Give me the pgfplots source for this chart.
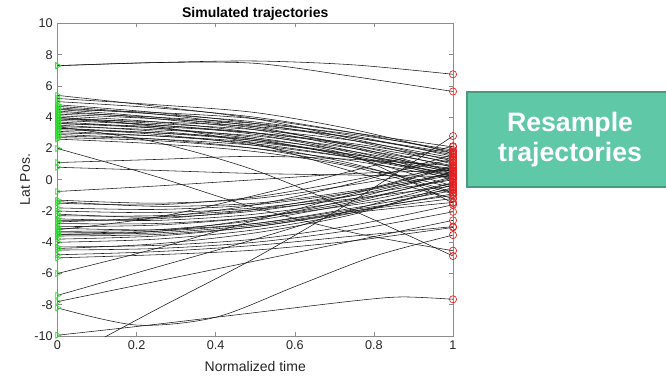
\documentclass[border=0pt]{standalone}
\usepackage{pgfplots}
\pgfplotsset{compat=1.18}
\usepackage{fontspec}
\setmainfont{Liberation Sans}
\definecolor{boxfill}{RGB}{95,200,166}
\definecolor{boxedge}{RGB}{74,155,125}
\definecolor{startgreen}{RGB}{40,220,40}
\definecolor{endred}{RGB}{230,30,30}
\definecolor{axgray}{RGB}{140,140,140}
\definecolor{ticktext}{RGB}{38,38,38}
\newcommand{\traj}[5]{\addplot[traj] coordinates {(0,#1)(0.25,#2)(0.5,#3)(0.75,#4)(1,#5)};}
\begin{document}
\begin{tikzpicture}
\useasboundingbox (-43.125pt,-29.25pt) rectangle (456.375pt,252pt);
\begin{axis}[
  at={(0pt,0pt)}, anchor=south west,
  scale only axis, width=296.625pt, height=234.375pt,
  xmin=0, xmax=1, ymin=-10, ymax=10,
  xtick={0,0.2,0.4,0.6,0.8,1},
  ytick={-10,-8,-6,-4,-2,0,2,4,6,8,10},
  tick align=inside, major tick length=3pt,
  axis line style={axgray, line width=0.5pt},
  tick style={axgray, line width=0.4pt},
  tick label style={font=\fontsize{9.5}{11}\selectfont, text=ticktext},
  /pgf/number format/assume math mode=true,
  title={\bfseries Simulated trajectories},
  title style={font=\fontsize{10.5}{12}\selectfont, yshift=-7.5pt},
  xlabel={Normalized time}, ylabel={Lat Pos.},
  label style={font=\fontsize{10.5}{12}\selectfont, text=ticktext},
  xlabel style={yshift=-2pt},
  ylabel style={yshift=-3.5pt},
  traj/.style={black!90, line width=0.42pt, smooth, mark=none},
  clip=true,
]
% top
\traj{7.3}{7.5}{7.6}{7.35}{6.75}
\traj{7.3}{7.5}{7.45}{6.6}{5.65}
% upper group
\traj{5.4}{4.7}{3.9}{2.6}{1.2}
\traj{5.2}{4.8}{4.3}{3.2}{1.7}
\traj{5.0}{4.6}{4.0}{3.0}{1.8}
\traj{4.8}{4.3}{3.6}{2.5}{1.0}
\traj{4.6}{4.2}{3.7}{2.8}{1.5}
\traj{4.5}{4.0}{3.3}{2.2}{0.8}
\traj{4.5}{4.3}{3.9}{3.0}{2.1}
\traj{4.4}{3.9}{3.2}{2.0}{0.4}
\traj{4.2}{3.9}{3.5}{2.7}{1.6}
\traj{4.1}{3.7}{3.0}{1.8}{0.2}
\traj{4.0}{3.6}{3.2}{2.5}{1.4}
\traj{3.9}{3.5}{2.9}{1.7}{0.0}
\traj{3.8}{3.5}{3.0}{2.2}{1.1}
\traj{3.7}{3.3}{2.6}{1.4}{-0.4}
\traj{3.6}{3.4}{3.0}{2.3}{1.3}
\traj{3.5}{3.1}{2.5}{1.5}{0.3}
\traj{3.4}{3.2}{2.8}{2.0}{0.9}
\traj{3.3}{2.9}{2.2}{1.0}{-0.8}
\traj{3.2}{3.0}{2.6}{1.8}{0.6}
\traj{3.1}{2.8}{2.3}{1.4}{0.2}
\traj{3.0}{2.8}{2.4}{1.6}{0.7}
\traj{2.9}{2.6}{2.0}{0.9}{-0.5}
\traj{2.8}{2.6}{2.2}{1.4}{0.4}
\traj{2.7}{2.5}{2.0}{1.2}{0.1}
\traj{2.6}{2.3}{1.8}{0.8}{-0.9}
\traj{3.6}{3.3}{2.7}{1.5}{-1.5}
\traj{4.0}{3.4}{2.3}{0.5}{-1.2}
\traj{4.3}{4.0}{3.6}{2.9}{1.9}
\traj{3.4}{2.4}{0.6}{-2.0}{-4.88}
\traj{3.9}{3.7}{3.4}{2.7}{1.7}
\traj{3.3}{3.0}{2.5}{1.6}{0.5}
\traj{4.7}{4.2}{3.4}{2.1}{0.5}
% middle
\traj{2.0}{0.2}{-1.8}{-3.4}{-4.54}
\traj{1.1}{1.3}{1.5}{1.3}{0.9}
\traj{0.8}{0.6}{0.4}{0.3}{0.2}
\traj{-0.75}{-0.4}{0.0}{0.4}{0.6}
% lower group
\traj{-1.3}{-1.5}{-1.2}{-0.3}{0.8}
\traj{-1.4}{-1.7}{-1.5}{-0.7}{0.4}
\traj{-1.5}{-1.6}{-1.1}{0.0}{1.3}
\traj{-1.8}{-1.9}{-1.6}{-0.8}{0.3}
\traj{-2.0}{-2.1}{-1.8}{-1.0}{0.0}
\traj{-2.2}{-2.4}{-2.0}{-1.0}{0.5}
\traj{-2.3}{-2.3}{-1.9}{-1.2}{-0.4}
\traj{-2.5}{-2.6}{-2.2}{-1.3}{0.1}
\traj{-2.6}{-2.5}{-1.9}{-0.8}{0.9}
\traj{-2.8}{-2.8}{-2.4}{-1.6}{-0.6}
\traj{-3.0}{-2.9}{-2.4}{-1.4}{0.2}
\traj{-3.1}{-3.2}{-2.8}{-1.9}{-1.0}
\traj{-3.3}{-3.2}{-2.6}{-1.5}{-0.2}
\traj{-3.4}{-3.3}{-2.8}{-1.8}{-0.7}
\traj{-3.5}{-3.4}{-2.9}{-2.0}{-1.2}
\traj{-3.5}{-3.3}{-2.5}{-1.2}{0.5}
\traj{-3.6}{-3.5}{-3.0}{-2.1}{-1.45}
\traj{-3.8}{-3.6}{-3.0}{-2.0}{-0.9}
\traj{-4.0}{-3.8}{-3.2}{-2.1}{-0.5}
\traj{-4.3}{-4.2}{-3.8}{-2.9}{-1.6}
\traj{-4.4}{-4.1}{-3.4}{-2.2}{-0.3}
\traj{-4.5}{-4.4}{-4.0}{-3.2}{-2.05}
\traj{-4.8}{-4.6}{-4.2}{-3.6}{-3.0}
\traj{-5.0}{-4.8}{-4.5}{-3.9}{-3.05}
\traj{-3.2}{-2.4}{-1.0}{0.6}{2.15}
\traj{-2.7}{-2.4}{-1.6}{-0.2}{1.6}
% bottom lines
\traj{-6.0}{-4.4}{-2.6}{-0.9}{0.8}
\traj{-7.4}{-5.6}{-3.8}{-1.9}{-0.2}
\traj{-7.8}{-6.5}{-5.2}{-3.9}{-2.6}
\addplot[traj] coordinates {(0,-9.95)(0.25,-9.25)(0.5,-8.5)(0.75,-7.75)(0.87,-7.5)(1,-7.65)};
\addplot[traj] coordinates {(0,-8.2)(0.2,-9.3)(0.4,-8.8)(0.6,-6.84)(0.8,-4.9)(1,-3.54)};
\traj{-11.7}{-8.3}{-5.0}{-1.3}{2.8}
% start markers
\addplot[only marks, mark=triangle, mark size=2.6pt, mark options={rotate=-90, draw=startgreen, line width=0.45pt, fill=none}] coordinates {
(0,7.3)(0,7.3)(0,5.4)(0,5.2)(0,5.0)(0,4.8)(0,4.6)(0,4.5)(0,4.5)(0,4.4)(0,4.2)(0,4.1)(0,4.0)(0,3.9)(0,3.8)(0,3.7)(0,3.6)(0,3.5)(0,3.4)(0,3.3)(0,3.2)(0,3.1)(0,3.0)(0,2.9)(0,2.8)(0,2.7)(0,2.6)(0,3.6)(0,4.0)(0,4.3)(0,3.4)(0,3.9)(0,3.3)(0,4.7)
(0,2.0)(0,1.1)(0,0.8)(0,-0.75)
(0,-1.3)(0,-1.4)(0,-1.5)(0,-1.8)(0,-2.0)(0,-2.2)(0,-2.3)(0,-2.5)(0,-2.6)(0,-2.8)(0,-3.0)(0,-3.1)(0,-3.3)(0,-3.4)(0,-3.5)(0,-3.5)(0,-3.6)(0,-3.8)(0,-4.0)(0,-4.3)(0,-4.4)(0,-4.5)(0,-4.8)(0,-5.0)(0,-3.2)(0,-2.7)
(0,-6.0)(0,-7.4)(0,-7.8)(0,-9.95)(0,-8.2)};
% end markers
\addplot[only marks, mark=o, mark size=2.7pt, mark options={draw=endred, line width=0.5pt}] coordinates {
(1,6.75)(1,5.65)(1,1.2)(1,1.7)(1,1.8)(1,1.0)(1,1.5)(1,0.8)(1,2.1)(1,0.4)(1,1.6)(1,0.2)(1,1.4)(1,0.0)(1,1.1)(1,-0.4)(1,1.3)(1,0.3)(1,0.9)(1,-0.8)(1,0.6)(1,0.2)(1,0.7)(1,-0.5)(1,0.4)(1,0.1)(1,-0.9)(1,-1.5)(1,-1.2)(1,1.9)(1,-4.88)(1,1.7)(1,0.5)(1,0.5)
(1,-4.54)(1,0.9)(1,0.2)(1,0.6)
(1,0.8)(1,0.4)(1,1.3)(1,0.3)(1,0.0)(1,0.5)(1,-0.4)(1,0.1)(1,0.9)(1,-0.6)(1,0.2)(1,-1.0)(1,-0.2)(1,-0.7)(1,-1.2)(1,0.5)(1,-1.45)(1,-0.9)(1,-0.5)(1,-1.6)(1,-0.3)(1,-2.05)(1,-3.0)(1,-3.05)(1,2.15)(1,1.6)
(1,0.8)(1,-0.2)(1,-2.6)(1,-7.65)(1,-3.54)(1,2.8)};
\end{axis}
\draw[fill=boxfill, draw=boxedge, line width=1.5pt] (307.1pt,111.75pt) rectangle (470pt,183pt);
\node[text=white, font=\bfseries\fontsize{20}{22.5}\selectfont, align=center] at (384.4pt,147.4pt) {Resample\\trajectories};
\end{tikzpicture}
\end{document}
